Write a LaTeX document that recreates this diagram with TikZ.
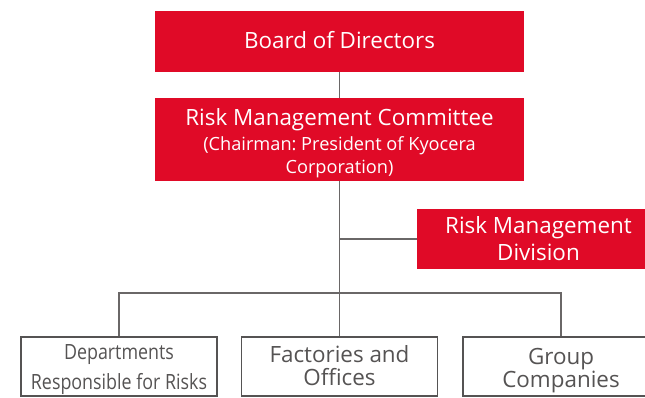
\documentclass[tikz,border=0pt]{standalone}
\usepackage{fontspec}
\setmainfont{Open Sans}
\newfontfamily\condfont[FakeStretch=0.85]{Open Sans}
\definecolor{kred}{HTML}{E00A27}
\definecolor{kline}{HTML}{6A6767}
\definecolor{kgray}{HTML}{555353}
\frenchspacing
\begin{document}
\begin{tikzpicture}[x=1pt,y=-1pt,
  redbox/.style={fill=kred,inner sep=0pt},
  whitebox/.style={draw=kgray,line width=1.1pt,fill=white,inner sep=0pt,minimum width=196pt,minimum height=59pt},
  redtxt/.style={text=white,inner sep=0pt,anchor=base},
  graytxt/.style={text=kgray,inner sep=0pt,anchor=base},
  big/.style={font=\fontsize{22.4}{27}\selectfont},
  small/.style={font=\fontsize{18.2}{22}\selectfont},
  cond/.style={font=\condfont\fontsize{21}{26}\selectfont},
  conn/.style={draw=kline,line width=1.1pt}]
\useasboundingbox (0,0) rectangle (645,397);
% red boxes
\node[redbox,minimum width=369pt,minimum height=61pt] (board) at (339.5,41.5) {};
\node[redbox,minimum width=369pt,minimum height=83pt] (rmc) at (339.5,139.5) {};
\node[redbox,minimum width=243pt,minimum height=60pt] (rmd) at (538.5,239) {};
\node[redtxt,big] (boardt) at (339.5,48.3) {Board of Directors};
\node[redtxt,big] (rmct1) at (339.5,125) {Risk Management Committee};
\node[redtxt,small] (rmct2) at (339.5,150.3) {(Chairman: President of Kyocera};
\node[redtxt,small] (rmct3) at (339.5,173) {Corporation)};
\node[redtxt,big] (rmdt1) at (538.5,233.3) {Risk Management};
\node[redtxt,big] (rmdt2) at (538.5,260.5) {Division};
% white boxes
\node[whitebox] (dep) at (119,366.5) {};
\node[whitebox] (fac) at (339.5,366.5) {};
\node[whitebox] (grp) at (561,366.5) {};
\node[graytxt,cond] (dept1) at (119,359) {Departments};
\node[graytxt,cond] (dept2) at (119,389) {Responsible for Risks};
\node[graytxt,big] (fact1) at (339.5,362.3) {Factories and};
\node[graytxt,big] (fact2) at (339.5,385) {Offices};
\node[graytxt,big] (grpt1) at (561,364.5) {Group};
\node[graytxt,big] (grpt2) at (561,387) {Companies};
% connectors
\coordinate (bar) at (339.5,293);
\draw[conn] (board.south) -- (rmc.north);
\draw[conn] (rmc.south) -- (fac.north);
\draw[conn] (rmd.west -| rmc.south) -- (rmd.west);
\draw[conn] (dep.north) |- (bar) -| (grp.north);
\end{tikzpicture}
\end{document}
